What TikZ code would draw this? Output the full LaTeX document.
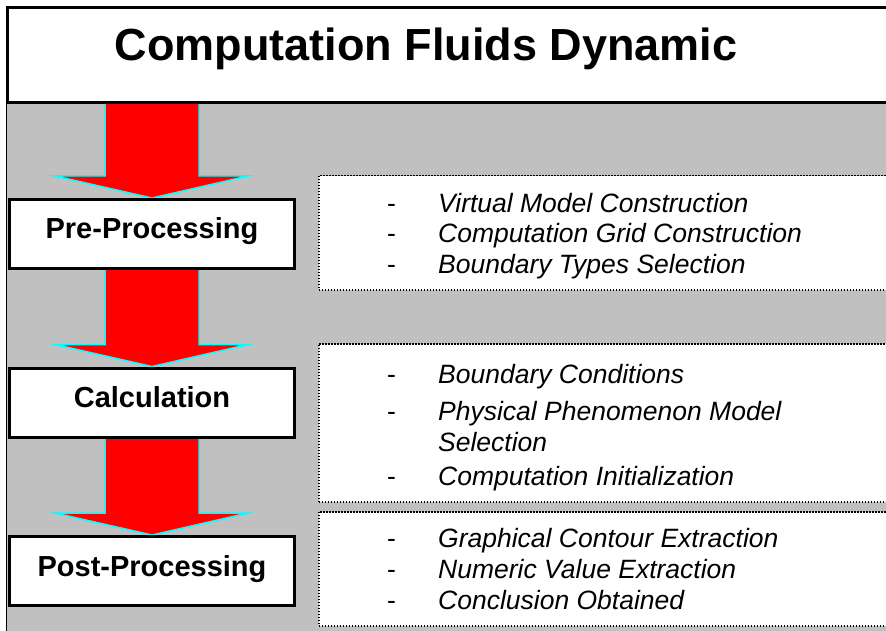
\documentclass[tikz,border=0pt]{standalone}
\usepackage{fontspec}
\setmainfont{Liberation Sans}
\usetikzlibrary{calc}
\definecolor{panelgray}{HTML}{C0C0C0}
\definecolor{arrowred}{HTML}{FF0000}
\definecolor{arrowedge}{HTML}{00FFFF}

% block arrow from the bottom of node #1 down to the top of node #2
\newcommand\flowarrow[2]{%
  \draw[flowarrow] let \p1=(#1.south), \p2=(#2.north) in
    (\x2-47pt,\y1) -- (\x2-47pt,\y2+22pt) -- (\x2-97pt,\y2+22pt) -- (\x2,\y2)
    -- (\x2+96pt,\y2+22pt) -- (\x2+47pt,\y2+22pt) -- (\x2+47pt,\y1);}

\begin{document}
\begin{tikzpicture}[x=1pt,y=-1pt,
  framebox/.style={draw=black, line width=3pt, fill=white, inner sep=0pt},
  stagebox/.style={draw=black, line width=3pt, fill=white, inner sep=0pt,
    minimum width=285pt, minimum height=69pt,
    font=\fontsize{29}{29}\selectfont\bfseries, text height=20pt, text depth=10pt},
  listbox/.style={draw=black, line width=1.5pt, dash pattern=on 1.5pt off 1.5pt,
    fill=white, inner sep=0pt, anchor=north west, minimum width=600pt},
  itemtext/.style={anchor=base west, inner sep=0pt, font=\fontsize{26.5}{26.5}\selectfont\itshape},
  dashmark/.style={anchor=base west, inner sep=0pt, font=\fontsize{26.5}{26.5}\selectfont},
  flowarrow/.style={fill=arrowred, draw=arrowedge, line width=1.5pt, line join=miter}
]
\useasboundingbox (0,0) rectangle (886,631);
\clip (0,0) rectangle (886,631);

% background panel and left rule
\fill[panelgray] (7,103) rectangle (886,631);
\draw[line width=1.5pt] (6.5,100) -- (6.5,631);

% title banner
\node[framebox, anchor=north west, minimum width=900pt, minimum height=95pt] (titlebox) at (6,6) {};
\node[anchor=base, inner sep=0pt, font=\fontsize{45}{45}\selectfont\bfseries] (title) at (426,61) {Computation Fluids Dynamic};

% stage boxes (placed first so arrows can refer to them)
\path (152,234) node[stagebox] (pre) {Pre-Processing};
\path (152,402.5) node[stagebox] (calc) {Calculation};
\path (152,571) node[stagebox] (post) {Post-Processing};

% arrows between stages
\flowarrow{titlebox}{pre}
\flowarrow{pre}{calc}
\flowarrow{calc}{post}

% redraw stage boxes on top of the arrow shafts
\node[stagebox] at (pre) {Pre-Processing};
\node[stagebox] at (calc) {Calculation};
\node[stagebox] at (post) {Post-Processing};

% detail lists
\node[listbox, minimum height=114pt] (prelist) at (318,175) {};
\node[listbox, minimum height=158pt] (calclist) at (318,343) {};
\node[listbox, minimum height=114pt] (postlist) at (318,511) {};

\node[dashmark] (p1d) at (387,212) {-};
\node[itemtext] (p1) at (438,212) {Virtual Model Construction};
\node[dashmark] (p2d) at (387,243) {-};
\node[itemtext] (p2) at (438,243) {Computation Grid Construction};
\node[dashmark] (p3d) at (387,273) {-};
\node[itemtext] (p3) at (438,273) {Boundary Types Selection};

\node[dashmark] (c1d) at (387,383) {-};
\node[itemtext] (c1) at (438,383) {Boundary Conditions};
\node[dashmark] (c2d) at (387,420) {-};
\node[itemtext] (c2) at (438,420) {Physical Phenomenon Model};
\node[itemtext] (c2b) at (438,451) {Selection};
\node[dashmark] (c3d) at (387,485) {-};
\node[itemtext] (c3) at (438,485) {Computation Initialization};

\node[dashmark] (q1d) at (387,547) {-};
\node[itemtext] (q1) at (438,547) {Graphical Contour Extraction};
\node[dashmark] (q2d) at (387,578) {-};
\node[itemtext] (q2) at (438,578) {Numeric Value Extraction};
\node[dashmark] (q3d) at (387,609) {-};
\node[itemtext] (q3) at (438,609) {Conclusion Obtained};
\end{tikzpicture}
\end{document}
